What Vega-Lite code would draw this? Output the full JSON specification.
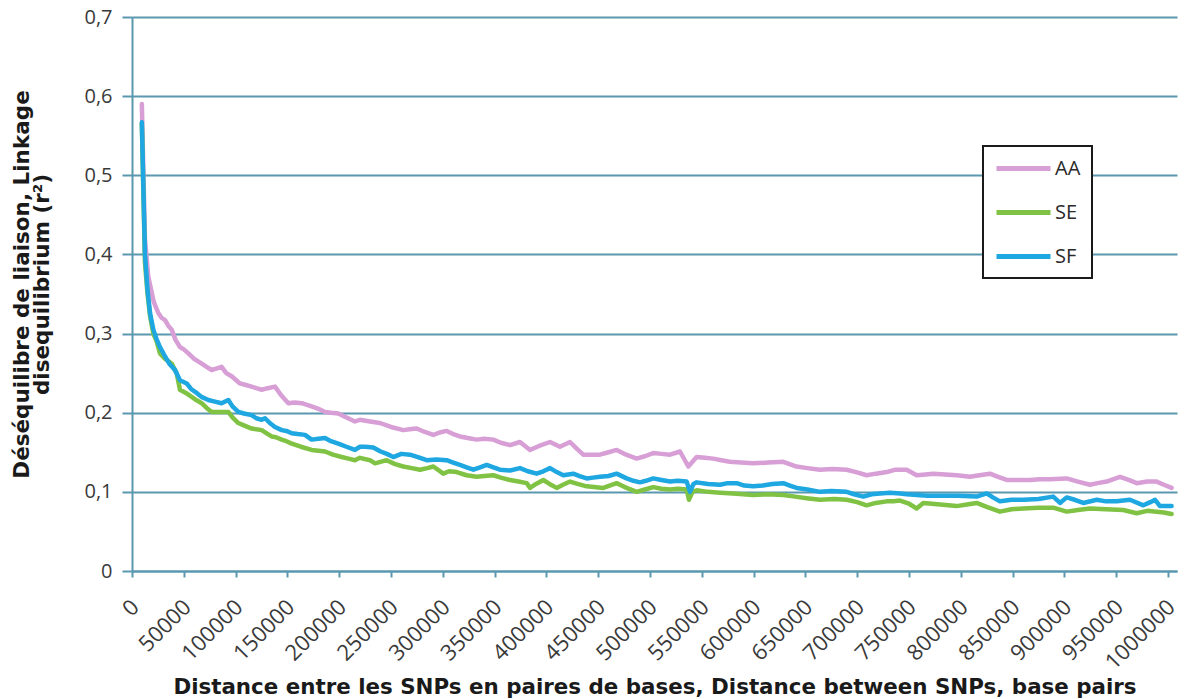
{
  "$schema": "https://vega.github.io/schema/vega-lite/v6.json",
  "width": 1045,
  "height": 554,
  "autosize": {"type": "none"},
  "padding": {"left": 132, "top": 17, "right": 8, "bottom": 128},
  "background": "white",
  "config": {"view": {"stroke": null}, "font": "Open Sans", "legend": {"strokeWidth": 2}},
  "data": {"values": [
    {"pop":"AA","bp":9500,"ld":0.590},{"pop":"AA","bp":12500,"ld":0.42},{"pop":"AA","bp":15700,"ld":0.372},{"pop":"AA","bp":18500,"ld":0.355},{"pop":"AA","bp":21000,"ld":0.340},{"pop":"AA","bp":25400,"ld":0.326},{"pop":"AA","bp":28500,"ld":0.320},{"pop":"AA","bp":31900,"ld":0.317},{"pop":"AA","bp":35000,"ld":0.310},{"pop":"AA","bp":38300,"ld":0.305},{"pop":"AA","bp":42000,"ld":0.292},{"pop":"AA","bp":46300,"ld":0.283},{"pop":"AA","bp":50000,"ld":0.280},{"pop":"AA","bp":54400,"ld":0.275},{"pop":"AA","bp":60000,"ld":0.268},{"pop":"AA","bp":67300,"ld":0.262},{"pop":"AA","bp":72000,"ld":0.258},{"pop":"AA","bp":76900,"ld":0.254},{"pop":"AA","bp":82000,"ld":0.256},{"pop":"AA","bp":86500,"ld":0.258},{"pop":"AA","bp":91000,"ld":0.250},{"pop":"AA","bp":96200,"ld":0.246},{"pop":"AA","bp":104200,"ld":0.237},{"pop":"AA","bp":110000,"ld":0.235},{"pop":"AA","bp":115500,"ld":0.233},{"pop":"AA","bp":120000,"ld":0.231},{"pop":"AA","bp":125200,"ld":0.229},{"pop":"AA","bp":131000,"ld":0.231},{"pop":"AA","bp":138000,"ld":0.233},{"pop":"AA","bp":144000,"ld":0.222},{"pop":"AA","bp":150900,"ld":0.212},{"pop":"AA","bp":157000,"ld":0.213},{"pop":"AA","bp":163800,"ld":0.212},{"pop":"AA","bp":173400,"ld":0.208},{"pop":"AA","bp":180000,"ld":0.205},{"pop":"AA","bp":186300,"ld":0.201},{"pop":"AA","bp":192000,"ld":0.200},{"pop":"AA","bp":199100,"ld":0.199},{"pop":"AA","bp":207000,"ld":0.194},{"pop":"AA","bp":215200,"ld":0.189},{"pop":"AA","bp":220000,"ld":0.191},{"pop":"AA","bp":229700,"ld":0.189},{"pop":"AA","bp":239400,"ld":0.187},{"pop":"AA","bp":250000,"ld":0.182},{"pop":"AA","bp":261900,"ld":0.178},{"pop":"AA","bp":268000,"ld":0.179},{"pop":"AA","bp":274800,"ld":0.180},{"pop":"AA","bp":282000,"ld":0.176},{"pop":"AA","bp":290900,"ld":0.172},{"pop":"AA","bp":297000,"ld":0.175},{"pop":"AA","bp":303800,"ld":0.177},{"pop":"AA","bp":310000,"ld":0.173},{"pop":"AA","bp":316600,"ld":0.170},{"pop":"AA","bp":324000,"ld":0.168},{"pop":"AA","bp":332700,"ld":0.166},{"pop":"AA","bp":340000,"ld":0.167},{"pop":"AA","bp":348800,"ld":0.166},{"pop":"AA","bp":356000,"ld":0.162},{"pop":"AA","bp":364900,"ld":0.159},{"pop":"AA","bp":374500,"ld":0.163},{"pop":"AA","bp":384200,"ld":0.153},{"pop":"AA","bp":393000,"ld":0.158},{"pop":"AA","bp":403500,"ld":0.163},{"pop":"AA","bp":413100,"ld":0.157},{"pop":"AA","bp":422800,"ld":0.163},{"pop":"AA","bp":429000,"ld":0.155},{"pop":"AA","bp":435600,"ld":0.147},{"pop":"AA","bp":443000,"ld":0.147},{"pop":"AA","bp":451700,"ld":0.147},{"pop":"AA","bp":460000,"ld":0.150},{"pop":"AA","bp":467800,"ld":0.153},{"pop":"AA","bp":477000,"ld":0.147},{"pop":"AA","bp":487100,"ld":0.142},{"pop":"AA","bp":495000,"ld":0.145},{"pop":"AA","bp":503200,"ld":0.149},{"pop":"AA","bp":511000,"ld":0.148},{"pop":"AA","bp":519300,"ld":0.147},{"pop":"AA","bp":529000,"ld":0.151},{"pop":"AA","bp":537000,"ld":0.132},{"pop":"AA","bp":545000,"ld":0.144},{"pop":"AA","bp":553000,"ld":0.143},{"pop":"AA","bp":561100,"ld":0.142},{"pop":"AA","bp":569000,"ld":0.140},{"pop":"AA","bp":577200,"ld":0.138},{"pop":"AA","bp":588000,"ld":0.137},{"pop":"AA","bp":599700,"ld":0.136},{"pop":"AA","bp":614000,"ld":0.137},{"pop":"AA","bp":628700,"ld":0.138},{"pop":"AA","bp":641500,"ld":0.132},{"pop":"AA","bp":652000,"ld":0.130},{"pop":"AA","bp":664100,"ld":0.128},{"pop":"AA","bp":676000,"ld":0.129},{"pop":"AA","bp":689800,"ld":0.128},{"pop":"AA","bp":699000,"ld":0.125},{"pop":"AA","bp":709100,"ld":0.121},{"pop":"AA","bp":718000,"ld":0.123},{"pop":"AA","bp":728500,"ld":0.125},{"pop":"AA","bp":737000,"ld":0.128},{"pop":"AA","bp":747800,"ld":0.128},{"pop":"AA","bp":757400,"ld":0.121},{"pop":"AA","bp":766000,"ld":0.122},{"pop":"AA","bp":773500,"ld":0.123},{"pop":"AA","bp":785000,"ld":0.122},{"pop":"AA","bp":796000,"ld":0.121},{"pop":"AA","bp":808900,"ld":0.119},{"pop":"AA","bp":818000,"ld":0.121},{"pop":"AA","bp":828200,"ld":0.123},{"pop":"AA","bp":836000,"ld":0.119},{"pop":"AA","bp":844300,"ld":0.115},{"pop":"AA","bp":856000,"ld":0.115},{"pop":"AA","bp":866800,"ld":0.115},{"pop":"AA","bp":876000,"ld":0.116},{"pop":"AA","bp":886100,"ld":0.116},{"pop":"AA","bp":902200,"ld":0.117},{"pop":"AA","bp":913000,"ld":0.113},{"pop":"AA","bp":924700,"ld":0.109},{"pop":"AA","bp":932000,"ld":0.111},{"pop":"AA","bp":940800,"ld":0.113},{"pop":"AA","bp":953700,"ld":0.119},{"pop":"AA","bp":962000,"ld":0.115},{"pop":"AA","bp":969800,"ld":0.111},{"pop":"AA","bp":980000,"ld":0.113},{"pop":"AA","bp":989100,"ld":0.113},{"pop":"AA","bp":996000,"ld":0.109},{"pop":"AA","bp":1003500,"ld":0.105},
    {"pop":"SE","bp":9500,"ld":0.565},{"pop":"SE","bp":12500,"ld":0.39},{"pop":"SE","bp":15000,"ld":0.35},{"pop":"SE","bp":17400,"ld":0.322},{"pop":"SE","bp":20600,"ld":0.300},{"pop":"SE","bp":23800,"ld":0.290},{"pop":"SE","bp":27000,"ld":0.275},{"pop":"SE","bp":32000,"ld":0.268},{"pop":"SE","bp":38300,"ld":0.262},{"pop":"SE","bp":43100,"ld":0.250},{"pop":"SE","bp":46300,"ld":0.229},{"pop":"SE","bp":52000,"ld":0.225},{"pop":"SE","bp":57600,"ld":0.220},{"pop":"SE","bp":62000,"ld":0.216},{"pop":"SE","bp":67300,"ld":0.212},{"pop":"SE","bp":72000,"ld":0.206},{"pop":"SE","bp":76900,"ld":0.201},{"pop":"SE","bp":85000,"ld":0.201},{"pop":"SE","bp":93000,"ld":0.201},{"pop":"SE","bp":97000,"ld":0.194},{"pop":"SE","bp":102600,"ld":0.187},{"pop":"SE","bp":108000,"ld":0.184},{"pop":"SE","bp":115500,"ld":0.180},{"pop":"SE","bp":120000,"ld":0.179},{"pop":"SE","bp":125200,"ld":0.178},{"pop":"SE","bp":130000,"ld":0.174},{"pop":"SE","bp":134800,"ld":0.170},{"pop":"SE","bp":139000,"ld":0.169},{"pop":"SE","bp":144500,"ld":0.166},{"pop":"SE","bp":149000,"ld":0.164},{"pop":"SE","bp":154200,"ld":0.161},{"pop":"SE","bp":163000,"ld":0.157},{"pop":"SE","bp":173400,"ld":0.153},{"pop":"SE","bp":180000,"ld":0.152},{"pop":"SE","bp":186300,"ld":0.151},{"pop":"SE","bp":194000,"ld":0.147},{"pop":"SE","bp":202400,"ld":0.144},{"pop":"SE","bp":209000,"ld":0.142},{"pop":"SE","bp":215200,"ld":0.140},{"pop":"SE","bp":220000,"ld":0.143},{"pop":"SE","bp":229700,"ld":0.140},{"pop":"SE","bp":234600,"ld":0.136},{"pop":"SE","bp":245800,"ld":0.140},{"pop":"SE","bp":254000,"ld":0.135},{"pop":"SE","bp":261900,"ld":0.132},{"pop":"SE","bp":270000,"ld":0.130},{"pop":"SE","bp":278000,"ld":0.128},{"pop":"SE","bp":285000,"ld":0.130},{"pop":"SE","bp":290900,"ld":0.132},{"pop":"SE","bp":300500,"ld":0.123},{"pop":"SE","bp":306000,"ld":0.126},{"pop":"SE","bp":313400,"ld":0.125},{"pop":"SE","bp":323000,"ld":0.121},{"pop":"SE","bp":332700,"ld":0.119},{"pop":"SE","bp":340000,"ld":0.120},{"pop":"SE","bp":348800,"ld":0.121},{"pop":"SE","bp":356000,"ld":0.118},{"pop":"SE","bp":364900,"ld":0.115},{"pop":"SE","bp":373000,"ld":0.113},{"pop":"SE","bp":381000,"ld":0.111},{"pop":"SE","bp":384200,"ld":0.105},{"pop":"SE","bp":390000,"ld":0.110},{"pop":"SE","bp":397000,"ld":0.115},{"pop":"SE","bp":403000,"ld":0.110},{"pop":"SE","bp":409900,"ld":0.105},{"pop":"SE","bp":416000,"ld":0.109},{"pop":"SE","bp":422800,"ld":0.113},{"pop":"SE","bp":430000,"ld":0.110},{"pop":"SE","bp":438900,"ld":0.107},{"pop":"SE","bp":446000,"ld":0.106},{"pop":"SE","bp":454900,"ld":0.105},{"pop":"SE","bp":461000,"ld":0.108},{"pop":"SE","bp":467800,"ld":0.111},{"pop":"SE","bp":471000,"ld":0.109},{"pop":"SE","bp":477400,"ld":0.105},{"pop":"SE","bp":487100,"ld":0.100},{"pop":"SE","bp":495000,"ld":0.103},{"pop":"SE","bp":503200,"ld":0.106},{"pop":"SE","bp":511000,"ld":0.104},{"pop":"SE","bp":519300,"ld":0.103},{"pop":"SE","bp":527000,"ld":0.104},{"pop":"SE","bp":535400,"ld":0.103},{"pop":"SE","bp":537600,"ld":0.090},{"pop":"SE","bp":541000,"ld":0.100},{"pop":"SE","bp":545000,"ld":0.102},{"pop":"SE","bp":556000,"ld":0.100},{"pop":"SE","bp":567600,"ld":0.099},{"pop":"SE","bp":580000,"ld":0.098},{"pop":"SE","bp":599700,"ld":0.096},{"pop":"SE","bp":614000,"ld":0.097},{"pop":"SE","bp":628700,"ld":0.096},{"pop":"SE","bp":640000,"ld":0.094},{"pop":"SE","bp":651200,"ld":0.092},{"pop":"SE","bp":664100,"ld":0.090},{"pop":"SE","bp":678000,"ld":0.091},{"pop":"SE","bp":689800,"ld":0.090},{"pop":"SE","bp":700000,"ld":0.087},{"pop":"SE","bp":709100,"ld":0.083},{"pop":"SE","bp":718000,"ld":0.086},{"pop":"SE","bp":728500,"ld":0.088},{"pop":"SE","bp":735000,"ld":0.088},{"pop":"SE","bp":741300,"ld":0.089},{"pop":"SE","bp":750000,"ld":0.085},{"pop":"SE","bp":757400,"ld":0.079},{"pop":"SE","bp":763800,"ld":0.086},{"pop":"SE","bp":780000,"ld":0.084},{"pop":"SE","bp":796000,"ld":0.082},{"pop":"SE","bp":806000,"ld":0.084},{"pop":"SE","bp":815300,"ld":0.086},{"pop":"SE","bp":825000,"ld":0.081},{"pop":"SE","bp":837800,"ld":0.075},{"pop":"SE","bp":849000,"ld":0.078},{"pop":"SE","bp":860300,"ld":0.079},{"pop":"SE","bp":875000,"ld":0.080},{"pop":"SE","bp":889200,"ld":0.080},{"pop":"SE","bp":902200,"ld":0.075},{"pop":"SE","bp":913000,"ld":0.077},{"pop":"SE","bp":924700,"ld":0.079},{"pop":"SE","bp":940000,"ld":0.078},{"pop":"SE","bp":956900,"ld":0.077},{"pop":"SE","bp":969800,"ld":0.073},{"pop":"SE","bp":980000,"ld":0.076},{"pop":"SE","bp":989100,"ld":0.075},{"pop":"SE","bp":996000,"ld":0.074},{"pop":"SE","bp":1003500,"ld":0.072},
    {"pop":"SF","bp":9500,"ld":0.567},{"pop":"SF","bp":12500,"ld":0.40},{"pop":"SF","bp":15000,"ld":0.355},{"pop":"SF","bp":17400,"ld":0.326},{"pop":"SF","bp":20600,"ld":0.305},{"pop":"SF","bp":24000,"ld":0.292},{"pop":"SF","bp":27000,"ld":0.283},{"pop":"SF","bp":31900,"ld":0.271},{"pop":"SF","bp":36000,"ld":0.262},{"pop":"SF","bp":41500,"ld":0.254},{"pop":"SF","bp":46300,"ld":0.241},{"pop":"SF","bp":52800,"ld":0.237},{"pop":"SF","bp":57000,"ld":0.230},{"pop":"SF","bp":62400,"ld":0.225},{"pop":"SF","bp":67000,"ld":0.220},{"pop":"SF","bp":73700,"ld":0.216},{"pop":"SF","bp":80000,"ld":0.214},{"pop":"SF","bp":86500,"ld":0.212},{"pop":"SF","bp":93000,"ld":0.216},{"pop":"SF","bp":97000,"ld":0.208},{"pop":"SF","bp":102600,"ld":0.201},{"pop":"SF","bp":108000,"ld":0.199},{"pop":"SF","bp":115500,"ld":0.197},{"pop":"SF","bp":120000,"ld":0.193},{"pop":"SF","bp":125200,"ld":0.191},{"pop":"SF","bp":128400,"ld":0.193},{"pop":"SF","bp":133000,"ld":0.187},{"pop":"SF","bp":138000,"ld":0.182},{"pop":"SF","bp":144500,"ld":0.178},{"pop":"SF","bp":149000,"ld":0.177},{"pop":"SF","bp":154200,"ld":0.174},{"pop":"SF","bp":160000,"ld":0.173},{"pop":"SF","bp":167000,"ld":0.172},{"pop":"SF","bp":173400,"ld":0.166},{"pop":"SF","bp":180000,"ld":0.167},{"pop":"SF","bp":186300,"ld":0.168},{"pop":"SF","bp":192000,"ld":0.164},{"pop":"SF","bp":199100,"ld":0.161},{"pop":"SF","bp":207000,"ld":0.157},{"pop":"SF","bp":215200,"ld":0.153},{"pop":"SF","bp":220000,"ld":0.157},{"pop":"SF","bp":225000,"ld":0.157},{"pop":"SF","bp":232900,"ld":0.156},{"pop":"SF","bp":240000,"ld":0.151},{"pop":"SF","bp":246000,"ld":0.148},{"pop":"SF","bp":252200,"ld":0.144},{"pop":"SF","bp":260000,"ld":0.148},{"pop":"SF","bp":268300,"ld":0.147},{"pop":"SF","bp":276000,"ld":0.144},{"pop":"SF","bp":284400,"ld":0.140},{"pop":"SF","bp":294000,"ld":0.141},{"pop":"SF","bp":303800,"ld":0.140},{"pop":"SF","bp":310000,"ld":0.137},{"pop":"SF","bp":316600,"ld":0.134},{"pop":"SF","bp":323000,"ld":0.131},{"pop":"SF","bp":329500,"ld":0.128},{"pop":"SF","bp":336000,"ld":0.131},{"pop":"SF","bp":342400,"ld":0.134},{"pop":"SF","bp":348800,"ld":0.131},{"pop":"SF","bp":355200,"ld":0.128},{"pop":"SF","bp":365000,"ld":0.127},{"pop":"SF","bp":374500,"ld":0.130},{"pop":"SF","bp":382000,"ld":0.126},{"pop":"SF","bp":390600,"ld":0.123},{"pop":"SF","bp":397000,"ld":0.126},{"pop":"SF","bp":403500,"ld":0.130},{"pop":"SF","bp":410000,"ld":0.125},{"pop":"SF","bp":416300,"ld":0.121},{"pop":"SF","bp":426000,"ld":0.123},{"pop":"SF","bp":432000,"ld":0.120},{"pop":"SF","bp":438900,"ld":0.117},{"pop":"SF","bp":445000,"ld":0.118},{"pop":"SF","bp":451700,"ld":0.119},{"pop":"SF","bp":460000,"ld":0.120},{"pop":"SF","bp":467800,"ld":0.123},{"pop":"SF","bp":477400,"ld":0.117},{"pop":"SF","bp":484000,"ld":0.114},{"pop":"SF","bp":490300,"ld":0.112},{"pop":"SF","bp":496000,"ld":0.114},{"pop":"SF","bp":503200,"ld":0.117},{"pop":"SF","bp":511000,"ld":0.115},{"pop":"SF","bp":519300,"ld":0.113},{"pop":"SF","bp":527000,"ld":0.114},{"pop":"SF","bp":535400,"ld":0.113},{"pop":"SF","bp":538600,"ld":0.100},{"pop":"SF","bp":542000,"ld":0.110},{"pop":"SF","bp":545000,"ld":0.112},{"pop":"SF","bp":556000,"ld":0.110},{"pop":"SF","bp":567600,"ld":0.109},{"pop":"SF","bp":575000,"ld":0.111},{"pop":"SF","bp":583700,"ld":0.111},{"pop":"SF","bp":591000,"ld":0.108},{"pop":"SF","bp":599700,"ld":0.107},{"pop":"SF","bp":609000,"ld":0.108},{"pop":"SF","bp":618000,"ld":0.110},{"pop":"SF","bp":628700,"ld":0.111},{"pop":"SF","bp":635000,"ld":0.108},{"pop":"SF","bp":641500,"ld":0.105},{"pop":"SF","bp":652000,"ld":0.103},{"pop":"SF","bp":664100,"ld":0.100},{"pop":"SF","bp":675000,"ld":0.101},{"pop":"SF","bp":689800,"ld":0.100},{"pop":"SF","bp":697000,"ld":0.097},{"pop":"SF","bp":705900,"ld":0.094},{"pop":"SF","bp":714000,"ld":0.097},{"pop":"SF","bp":722000,"ld":0.098},{"pop":"SF","bp":731700,"ld":0.099},{"pop":"SF","bp":741300,"ld":0.098},{"pop":"SF","bp":748000,"ld":0.097},{"pop":"SF","bp":757400,"ld":0.096},{"pop":"SF","bp":768000,"ld":0.095},{"pop":"SF","bp":779900,"ld":0.095},{"pop":"SF","bp":797000,"ld":0.095},{"pop":"SF","bp":815300,"ld":0.094},{"pop":"SF","bp":825000,"ld":0.098},{"pop":"SF","bp":831000,"ld":0.093},{"pop":"SF","bp":837800,"ld":0.088},{"pop":"SF","bp":849000,"ld":0.090},{"pop":"SF","bp":860300,"ld":0.090},{"pop":"SF","bp":875000,"ld":0.091},{"pop":"SF","bp":889200,"ld":0.094},{"pop":"SF","bp":895800,"ld":0.086},{"pop":"SF","bp":902200,"ld":0.093},{"pop":"SF","bp":910000,"ld":0.090},{"pop":"SF","bp":918300,"ld":0.086},{"pop":"SF","bp":931200,"ld":0.090},{"pop":"SF","bp":940000,"ld":0.088},{"pop":"SF","bp":950500,"ld":0.088},{"pop":"SF","bp":963300,"ld":0.090},{"pop":"SF","bp":976200,"ld":0.083},{"pop":"SF","bp":983000,"ld":0.087},{"pop":"SF","bp":987500,"ld":0.090},{"pop":"SF","bp":992300,"ld":0.082},{"pop":"SF","bp":1003500,"ld":0.082}
  ]},
  "mark": {"type": "line", "strokeWidth": 4.5, "strokeJoin": "round", "strokeCap": "round"},
  "encoding": {
    "x": {
      "field": "bp", "type": "quantitative",
      "scale": {"domain": [0, 1008700], "nice": false, "zero": true},
      "axis": {
        "values": [0,50000,100000,150000,200000,250000,300000,350000,400000,450000,500000,550000,600000,650000,700000,750000,800000,850000,900000,950000,1000000],
        "format": "d",
        "labelAngle": -45,
        "labelFontSize": 22,
        "labelColor": "#3a3a3a",
        "labelPadding": 19,
        "labelOffset": -4,
        "labelOverlap": false,
        "labelFlush": false,
        "domainColor": "#5a98b0",
        "domainWidth": 2,
        "tickColor": "#5a98b0",
        "tickWidth": 2,
        "tickSize": 6,
        "grid": false,
        "title": "Distance entre les SNPs en paires de bases, Distance between SNPs, base pairs",
        "titleFont": "DejaVu Sans",
        "titleFontSize": 21.4,
        "titleFontWeight": "bold",
        "titleColor": "#1a1a1a",
        "titleBaseline": "alphabetic",
        "titleY": 122
      }
    },
    "y": {
      "field": "ld", "type": "quantitative",
      "scale": {"domain": [0, 0.7], "nice": false},
      "axis": {
        "values": [0, 0.1, 0.2, 0.3, 0.4, 0.5, 0.6, 0.7],
        "labelExpr": "datum.value == 0 ? '0' : replace(format(datum.value, '.1f'), '.', ',')",
        "labelFontSize": 20,
        "labelColor": "#3a3a3a",
        "labelPadding": 10,
        "domainColor": "#5a98b0",
        "domainWidth": 2,
        "tickColor": "#5a98b0",
        "tickWidth": 2,
        "tickSize": 10,
        "grid": true,
        "gridColor": "#5a98b0",
        "gridWidth": 2,
        "title": ["Déséquilibre de liaison, Linkage", "disequilibrium (r²)"],
        "titleFont": "DejaVu Sans",
        "titleFontSize": 21.5,
        "titleLineHeight": 20,
        "titleFontWeight": "bold",
        "titleColor": "#1a1a1a",
        "titleAngle": -90,
        "titleAlign": "center",
        "titleBaseline": "bottom",
        "titleX": -99,
        "titleY": 267
      }
    },
    "color": {
      "field": "pop", "type": "nominal",
      "scale": {"domain": ["AA", "SE", "SF"], "range": ["#d79fd5", "#80c244", "#1ea7e0"]},
      "legend": {
        "title": null,
        "orient": "none",
        "legendX": 851,
        "legendY": 129,
        "direction": "vertical",
        "symbolType": "M-1,0H5",
        "symbolSize": 324,
        "symbolStrokeWidth": 5,
        "labelFontSize": 20,
        "labelColor": "#2a2a2a",
        "labelOffset": 38,
        "labelExpr": "datum.label + '   '",
        "rowPadding": 22,
        "padding": 11,
        "strokeColor": "#1a1a1a",
        "fillColor": "white"
      }
    }
  }
}
